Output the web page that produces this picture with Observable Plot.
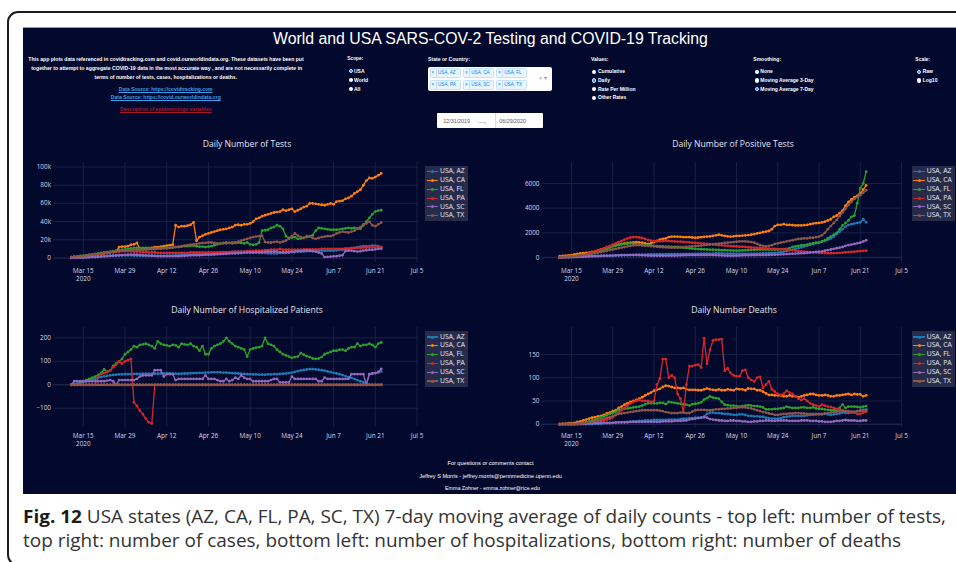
<!DOCTYPE html>
<html><head><meta charset="utf-8">
<script src="https://cdn.jsdelivr.net/npm/d3@7"></script>
<script src="https://cdn.jsdelivr.net/npm/@observablehq/plot@0.6"></script>
<style>
html,body{margin:0;padding:0;background:#fff;}
body{width:956px;height:562px;overflow:hidden;position:relative;font-family:"Liberation Sans",Arial,sans-serif;}
.abs{position:absolute;white-space:nowrap;line-height:1;}
</style></head><body>
<script>
// ---------------- DATA ----------------
const states = ["USA, AZ","USA, CA","USA, FL","USA, PA","USA, SC","USA, TX"];
const colors = ["#1f77b4","#ff7f0e","#2ca02c","#d62728","#9467bd","#8c564b"];
const seriesStart = "2020-03-11";   // daily values, Mar 11 .. Jun 23
const xTickDates = ["2020-03-15","2020-03-29","2020-04-12","2020-04-26","2020-05-10","2020-05-24","2020-06-07","2020-06-21","2020-07-05"];
const xTickLabels = ["Mar 15\n2020","Mar 29","Apr 12","Apr 26","May 10","May 24","Jun 7","Jun 21","Jul 5"];

// Daily Number of Tests (thousands)
const testsAZ = [0.2,0.3,0.4,0.5,0.6,0.8,1,1.2,1.4,1.6,1.8,2,2.2,2.4,2.5,
 2.6,2.7,2.8,2.8,2.8,2.8,2.7,2.6,2.5,2.4,2.3,2.2,2.2,2.2,2.2,
 2.2,2.3,2.4,2.5,2.6,2.7,2.8,3,3.2,3.4,3.6,3.8,4,4.2,4.4,
 4.6,4.8,5,5.2,5.4,5.6,5.8,6,6.2,6.4,6.6,6.8,7,7,7,
 6.5,6,6,5.5,5.5,5.5,5,5,5,5,5.5,5.5,6,6,6.5,
 6.5,7,7,7,7.5,7.5,7.5,7.5,8,8,8,8,8,8,8.5,
 9,9,9.5,10,10.5,11,12,12.5,13,13,13,13.5,13.5,13,12];
const testsCA = [1,1.5,1.5,2,2,2,2.5,3,3.5,4,4.5,5,5.5,6,6.5,
 7,12,12.5,12.5,13,14.5,15,16.5,10,10,10.5,10.5,11,12,12,
 12.5,13,13.5,14,14.5,36,34,35,35,35.5,36.5,39,19,23,24.5,
 26,27,28,29,30,31,31.5,32,33,34,36,36.5,36,37,37,
 38,40,43,44,46,47,48,49,50,50.5,51,53,52,53,54,
 51,52.5,54,56,57,60,60,59.5,59,58.5,58,59,60,59,62,
 62.5,63,65,66,68,71,73,75,80,85,88,87.5,89,91,93];
const testsFL = [0.5,1,1.5,2,2.5,3,3.5,4,4.5,5,5.5,6,6.5,7,7.5,
 8,8.5,9,9.5,10,10.5,11,11,11,11,11,11,11,10.5,10.5,
 11,11,11,11,11.5,12,12,12.5,13,13,13.5,13.5,13,12.5,12.5,
 12,12.5,13,14,15,16,16.5,17,16.5,16,16.5,17,16.5,16,17,
 15,14.5,15,17,30,30.5,31,33,34,36,35,32,24,22,22.5,
 23,21,21.5,22,23,24,25,30,33,32.5,32,31.5,31,31,31,
 31.5,32,32.5,33,32.5,33,32.5,32,36,40,44,48,51,52,52.5];
const testsPA = [0.3,0.5,0.8,1,1.5,2,2.5,3,3.5,4,4.5,5,5.5,6,6.5,
 7,7,7.5,7.5,7.5,7.5,7,7,7,6.5,6.5,6,6,6,5.5,
 5.5,5.5,5.5,5.5,5.5,5.5,5.5,5.5,5.5,5.5,6,6,6,6,6,
 6,6,6,6,6,6.5,6.5,6.5,6.5,7,7,7,7,7,7.5,
 7.5,7.5,8,8,8,8.5,8.5,9,9,9,10,9,9,9,9,
 9,9,9,9.5,9.5,9.5,9.5,9.5,9.5,10,10,10,10,10,10,
 10,10,10.5,10.5,11,11,11,11,11.5,11.5,12,12,12,12.5,12];
const testsSC = [0,0.2,0.3,0.4,0.5,0.6,0.8,1,1,1.2,1.5,1.8,2,2.2,2.5,
 2.8,3,3.2,3.4,3.5,3.6,3.6,3.5,3.3,3,2.8,2.6,2.4,2.2,2,
 2,2,2,2,2,2,2,2.2,2.4,2.6,2.8,3,3,3,3.2,
 3.4,3.5,3.6,3.8,4,4.2,4.4,4.6,4.8,5,5,5.2,5.4,5.6,5.8,
 6,6,6.2,6.4,6.5,6.6,6.8,7,7,7,6.5,6,6,6.5,7,
 7,7.5,7.5,8,8,8,7.5,7,6,5,1,1.2,1.5,1.8,2,
 2.5,3,7.5,8,8,7.5,7,7.5,8,8.5,9,9,9.5,10,10];
const testsTX = [1,1,1.5,2,2,2.5,3,3.5,4,4.5,5,5.5,6,6.5,7,
 7,7.5,8,8,8.5,8.5,9,9,9,9,9,9.5,9.5,9.5,10,
 10,10.5,10.5,11,11.5,12,12.5,13,13.5,14,14.5,15,15.5,16,16.5,
 16.5,17,17,16.5,16,15.5,16,16,16.5,17,17,18,19,20,21,
 22,23,23.5,24,24.5,17.5,17,17,17.5,18,17,18,19,21,24,
 27,24.5,23,22,24,23.5,22,21,22,23,23.5,24,24,25,27,
 28,29,28.5,28,29,30,32,34,37,38,40,36,35,37,39];

// Daily Number of Positive Tests
const posAZ = [0,5,10,15,20,30,40,50,60,70,80,90,100,110,120,
 130,140,150,160,170,180,190,200,200,210,220,230,230,240,240,
 250,250,250,260,260,260,270,270,270,280,280,280,290,290,300,
 300,300,310,310,310,320,320,320,330,330,330,320,320,310,310,
 300,300,300,300,300,310,310,320,320,330,340,350,360,380,400,
 430,470,520,580,640,700,760,830,900,970,1040,1100,1160,1220,1280,
 1350,1450,1550,1700,1900,2100,2300,2500,2650,2700,2750,2800,2850,3100,2850];
const posCA = [100,120,150,180,200,250,300,330,350,380,400,450,500,580,650,
 720,800,880,950,1000,1050,1100,1150,1180,1200,1230,1250,1220,1200,1150,
 1100,1150,1250,1350,1450,1500,1550,1650,1700,1700,1700,1680,1650,1650,1650,
 1620,1600,1620,1650,1680,1700,1720,1750,1800,1850,1800,1750,1720,1700,1720,
 1750,1760,1780,1800,1820,1850,1900,1950,2000,2050,2100,2150,2300,2550,2650,
 2650,2700,2650,2650,2620,2600,2600,2600,2620,2650,2700,2750,2780,2800,2850,
 2900,3000,3100,3300,3400,3600,3800,4200,4500,4700,4900,5000,5200,5500,5850];
const posFL = [0,20,40,60,80,100,130,160,200,250,300,350,400,470,530,
 600,700,800,900,950,1000,1050,1100,1120,1150,1120,1080,1050,1030,1000,
 1000,980,950,930,900,900,880,870,850,850,850,830,800,780,750,
 720,700,680,670,660,650,640,630,620,610,600,600,580,570,560,
 550,560,570,580,600,620,630,640,650,650,650,640,640,650,650,
 660,680,700,750,850,900,950,1000,1000,1050,1100,1150,1200,1200,1300,
 1400,1550,1700,1850,2000,2300,2600,2800,3000,3300,3400,4400,5600,6000,6950];
const posPA = [0,10,20,40,60,80,110,150,200,260,330,400,480,560,640,
 720,850,950,1050,1150,1250,1350,1450,1550,1620,1650,1650,1620,1580,1500,
 1420,1360,1320,1300,1320,1340,1350,1330,1320,1300,1290,1280,1260,1250,1230,
 1200,1190,1170,1150,1120,1100,1080,1050,1030,1000,990,970,950,930,920,
 900,880,870,850,830,810,800,780,770,750,740,720,700,690,680,
 670,660,650,620,600,560,520,500,480,460,440,420,400,380,370,
 360,350,350,350,360,380,400,420,440,460,480,500,520,540,550];
const posSC = [0,10,20,30,40,50,60,70,80,90,100,110,120,130,140,
 150,150,160,160,170,180,190,200,200,200,200,200,190,180,170,
 160,150,150,150,150,150,150,150,150,150,160,170,180,190,200,
 200,200,200,200,200,200,200,200,190,180,170,160,150,150,150,
 150,160,170,180,180,190,190,200,200,200,200,210,220,230,240,
 250,260,280,300,310,320,330,340,350,370,400,420,450,480,500,
 550,600,650,700,750,800,850,950,1000,1050,1100,1150,1200,1300,1400];
const posTX = [0,20,40,60,80,100,130,160,200,240,280,320,360,400,450,
 500,550,600,650,700,750,800,850,900,950,980,1000,1000,980,960,
 950,920,900,880,850,830,820,810,800,800,800,810,830,850,870,
 900,920,950,970,1000,1020,1050,1080,1100,1120,1150,1180,1200,1230,1250,
 1280,1300,1300,1300,1280,1250,1200,1100,1000,950,900,950,1000,1100,1150,
 1200,1250,1300,1350,1400,1450,1500,1520,1550,1550,1600,1600,1650,1700,1800,
 2000,2300,2550,2800,3050,3350,3650,3950,4250,4500,4750,4900,5050,5250,5450];

// Daily Number of Hospitalized Patients
const hospAZ = [0,3,6,9,12,15,18,22,26,30,33,36,38,40,42,
 43,44,44,45,45,45,46,46,46,47,47,47,47,47,47,
 48,48,48,48,47,47,47,47,48,48,49,50,50,51,51,
 52,52,53,53,53,53,52,52,51,50,49,48,47,46,45,
 45,44,44,43,43,43,44,44,45,45,46,47,48,50,52,
 55,58,61,63,65,67,67,66,64,62,60,57,54,51,48,
 45,41,37,33,29,25,20,15,10,5,45,48,50,52,57];
const hospCA = [0,0,0,0,0,0,0,0,0,0,0,0,0,0,0,
 0,0,0,0,0,0,0,0,0,0,0,0,0,0,0,
 0,0,0,0,0,0,0,0,0,0,0,0,0,0,0,
 0,0,0,0,0,0,0,0,0,0,0,0,0,0,0,
 0,0,0,0,0,0,0,0,0,0,0,0,0,0,0,
 0,0,0,0,0,0,0,0,0,0,0,0,0,0,0,
 0,0,0,0,0,0,0,0,0,0,0,0,0,0,0];
const hospFL = [null,null,null,10,15,20,25,30,35,42,50,65,55,60,80,
 90,100,110,130,140,150,165,160,170,172,175,170,165,155,185,
 175,170,168,165,170,168,160,175,172,170,175,165,160,145,165,
 130,130,155,165,170,175,185,200,185,175,165,160,155,150,120,
 150,155,158,160,165,200,175,170,165,150,140,130,125,120,115,
 118,120,135,128,122,118,112,110,112,118,130,135,140,145,145,
 150,150,145,155,160,160,175,165,170,170,175,170,160,175,180];
const hospPA = [0,0,0,0,0,0,0,0,0,35,45,50,55,60,75,
 85,100,90,100,105,110,-75,-90,-110,-125,-145,-160,-165,0,0,
 0,0,0,0,0,0,0,0,0,0,0,0,0,0,0,
 0,0,0,0,0,0,0,0,0,0,0,0,0,0,0,
 0,0,0,0,0,0,0,0,0,0,0,0,0,0,0,
 0,0,0,0,0,0,0,0,0,0,0,0,0,0,0,
 0,0,0,0,0,0,0,0,0,0,0,0,0,0,0];
const hospSC = [0,15,15,15,15,15,15,15,15,15,15,15,18,20,15,
 0,20,20,20,20,20,20,25,35,40,40,40,40,62,62,
 62,35,45,45,45,20,25,25,25,25,25,25,25,25,25,
 40,25,25,25,20,15,15,25,15,20,30,25,40,30,25,
 25,15,15,15,15,15,15,20,25,25,10,10,10,10,35,
 25,25,25,25,25,25,25,25,15,15,30,25,25,25,25,
 25,25,25,25,45,45,45,45,45,0,45,48,50,55,68];
const hospTX = [0,0,0,0,0,0,0,0,0,0,0,0,0,0,0,
 0,0,0,0,0,0,0,0,0,0,0,0,0,0,0,
 0,0,0,0,0,0,0,0,0,0,0,0,0,0,0,
 0,0,0,0,0,0,0,0,0,0,0,0,0,0,0,
 0,0,0,0,0,0,0,0,0,0,0,0,0,0,0,
 0,0,0,0,0,0,0,0,0,0,0,0,0,0,0,
 0,0,0,0,0,0,0,0,0,0,0,0,0,0,0];

// Daily Number Deaths
const deathsAZ = [0,0,0,0,0,0,0,0,0,0,0,0,1,1,1,
 2,2,2,3,3,4,4,4,5,5,6,6,7,7,8,
 8,8,9,9,9,9,9,10,10,10,10,11,12,12,13,
 13,14,14,14,16,22,25,25,24,24,23,22,22,21,20,
 20,21,21,20,18,18,17,17,16,16,14,13,12,12,12,
 13,15,16,17,18,18,18,18,18,19,20,20,21,21,21,
 22,21,20,21,22,23,25,24,24,25,26,28,30,31,32];
const deathsCA = [0,1,1,2,2,3,5,6,8,10,12,14,15,17,18,
 20,23,25,28,30,35,38,42,45,48,50,52,55,58,62,
 65,68,72,74,76,80,83,82,80,78,78,77,78,75,74,
 74,74,73,73,75,77,75,74,73,75,73,73,75,74,73,
 76,75,75,73,77,76,76,73,73,70,66,63,63,62,62,
 62,60,60,62,60,60,58,60,62,63,65,65,63,62,62,
 63,62,60,60,62,62,63,64,65,63,65,64,64,60,62];
const deathsFL = [0,0,0,0,0,0,1,2,3,5,6,8,10,12,15,
 17,20,22,24,27,30,32,33,34,35,36,37,38,40,43,
 45,45,45,45,46,46,43,48,47,46,45,44,43,42,40,
 43,44,45,47,53,56,60,57,56,55,48,42,41,40,40,
 39,38,39,40,41,40,39,39,38,36,32,32,32,33,33,
 34,35,38,36,35,35,35,36,36,35,35,36,34,33,33,
 32,31,30,30,30,35,42,35,38,38,38,37,36,38,39];
const deathsPA = [0,0,0,0,0,0,1,1,2,2,3,4,5,6,7,
 8,10,12,15,20,25,30,35,40,45,48,50,52,50,50,
 50,48,50,85,98,140,140,100,105,100,65,55,25,85,125,
 125,127,128,122,185,130,160,180,182,182,183,115,120,110,105,
 103,103,115,117,100,95,92,100,102,78,85,92,75,70,65,
 63,65,72,68,65,60,55,52,55,50,45,42,40,38,42,
 40,38,37,35,33,32,30,28,27,26,25,22,22,25,27];
const deathsSC = [0,0,0,0,0,0,1,1,1,1,2,2,2,2,3,
 3,3,3,3,4,4,4,4,4,5,5,5,5,5,5,
 5,5,5,5,5,6,6,6,6,7,7,7,8,8,10,
 11,12,13,14,15,14,11,10,9,8,8,7,7,8,8,
 7,7,6,6,5,5,6,6,7,7,8,8,7,7,8,
 8,8,8,7,7,7,7,8,8,8,7,7,7,6,6,
 5,5,5,6,7,7,8,9,8,8,8,7,7,8,8];
const deathsTX = [0,0,0,0,0,0,0,1,2,3,4,5,7,9,10,
 12,14,15,17,20,22,23,24,25,26,27,28,29,30,30,
 30,30,30,30,29,28,26,25,24,24,24,25,25,24,24,
 27,30,31,31,31,30,30,31,32,32,33,33,34,34,35,
 35,36,36,36,35,34,32,30,28,26,25,23,22,20,20,
 21,22,22,23,23,24,24,23,23,22,22,22,22,22,22,
 23,24,25,26,27,28,28,28,28,27,27,28,28,29,30];

const testsYTicks = [0,20,40,60,80,100];      const testsYLabels = ["0","20k","40k","60k","80k","100k"];
const posYTicks = [0,2000,4000,6000];         const posYLabels = ["0","2000","4000","6000"];
const hospYTicks = [-100,0,100,200];          const hospYLabels = ["\u2212100","0","100","200"];
const deathsYTicks = [0,50,100,150];          const deathsYLabels = ["0","50","100","150"];

// ---------------- STYLE ----------------
const PANEL = "#03092d", GRID = "#1b2347", TICK = "#d3d6e6", TITLE = "#e2e5ee";
const FONT = "'Open Sans', 'Liberation Sans', sans-serif";
const ARIAL = "'Liberation Sans', Arial, sans-serif";
const dates = d3.utcDay.range(new Date(seriesStart), new Date("2020-06-24"));
const xTicks = xTickDates.map(d => new Date(d));
const X_DOMAIN = [new Date("2020-03-05"), new Date("2020-07-05T12:00:00Z")];

const body = document.body;
function box(style) {
  const el = document.createElement("div");
  el.style.position = "absolute";
  Object.assign(el.style, style);
  body.appendChild(el);
  return el;
}
function txt(s, o) {
  const el = document.createElement("div");
  el.className = "abs";
  el.innerHTML = s;
  const size = o.size || 5;
  Object.assign(el.style, {fontFamily: o.font || ARIAL, fontSize: size + "px", fontWeight: o.weight || "bold",
    color: o.color || "#fff", textDecoration: o.underline ? "underline" : "none", left: "0px", top: "0px"});
  body.appendChild(el);
  if (o.w) {
    const w = el.getBoundingClientRect().width;
    el.style.fontSize = (size * o.w / w) + "px";
  }
  const r = el.getBoundingClientRect();
  const left = o.cx != null ? o.cx - r.width / 2 : o.left;
  el.style.left = left + "px";
  el.style.top = (o.cy - r.height / 2) + "px";
  return el;
}
function radio(cx, cy, sel) {
  box({left: (cx - 2.2) + "px", top: (cy - 2.2) + "px", width: "4.4px", height: "4.4px", borderRadius: "50%",
       background: sel ? "#2f8cf0" : "#fff", boxSizing: "border-box", border: sel ? "0.8px solid #cfe3ff" : "none"});
}

// ---------------- FRAME / PANEL ----------------
box({left: "7px", top: "11px", width: "1000px", height: "551px", border: "2px solid #1c1c1c", borderRadius: "11px"});
box({left: "23px", top: "27px", width: "940px", height: "466px", background: PANEL, borderTop: "1px solid #9a9aa6"});

// ---------------- HEADER ----------------
txt("World and USA SARS-COV-2 Testing and COVID-19 Tracking", {cx: 490.5, cy: 38.5, size: 16, w: 435, weight: "normal"});
txt("This app plots data referenced in covidtracking.com and covid.ourworldindata.org. These datasets have been put", {cx: 166, cy: 60, w: 276});
txt("together to attempt to aggregate COVID-19 data in the most accurate way , and are not necessarily complete in", {cx: 166.7, cy: 68.7, w: 272});
txt("terms of number of tests, cases, hospitalizations or deaths.", {cx: 165.8, cy: 77.3, w: 143});
txt("Data Source: https://covidtracking.com", {cx: 165.7, cy: 89.3, w: 94, color: "#3f9de8", underline: true});
txt("Data Source: https://covid.ourworldindata.org", {cx: 165.8, cy: 98, w: 110, color: "#3f9de8", underline: true});
txt("Description of epidemiology variables", {cx: 165.8, cy: 109.3, w: 91.7, color: "#a8182f", underline: true});

txt("Scope:", {left: 347.3, cy: 59.7, w: 16});
[["USA", true], ["World", false], ["All", false]].forEach(([t, s], i) => {
  radio(350.7, 71 + i * 9, s); txt(t, {left: 354, cy: 71 + i * 9});
});
txt("State or Country:", {left: 428, cy: 60, w: 42});
box({left: "428.3px", top: "66.7px", width: "124px", height: "24.5px", background: "#fff", borderRadius: "2px"});
const chipX = [430, 463.3, 496.3];
states.forEach((s, i) => {
  const x = chipX[i % 3], y = i < 3 ? 68.3 : 80;
  box({left: x + "px", top: y + "px", width: "30.5px", height: "10.2px", background: "#ebf5ff",
    border: "0.6px solid #c2e0ff", borderRadius: "1.5px", boxSizing: "border-box"});
  txt("\u00d7", {left: x + 1.6, cy: y + 5.1, size: 4.6, color: "#007eff", weight: "normal"});
  box({left: (x + 5.6) + "px", top: y + "px", width: "0.6px", height: "10.2px", background: "#c2e0ff"});
  txt(s, {left: x + 8, cy: y + 5.1, size: 4.6, color: "#007eff", weight: "normal"});
});
txt("\u00d7 \u25be", {left: 539, cy: 79, size: 5.5, color: "#999", weight: "normal"});
box({left: "437.3px", top: "113.3px", width: "105.5px", height: "15px", background: "#fff", borderRadius: "1px"});
txt("12/31/2019", {left: 443.3, cy: 121.7, w: 26.7, color: "#555", weight: "normal"});
txt("\u2014\u203a", {left: 478, cy: 121.5, size: 6, color: "#888", weight: "normal"});
box({left: "494.5px", top: "113.3px", width: "0.6px", height: "15px", background: "#ddd"});
txt("06/29/2020", {left: 499.3, cy: 121.7, w: 26.7, color: "#555", weight: "normal"});

txt("Values:", {left: 591, cy: 59.7});
[["Cumulative", false], ["Daily", true], ["Rate Per Million", false], ["Other Rates", false]].forEach(([t, s], i) => {
  radio(594, 71.7 + i * 8.67, s); txt(t, {left: 598, cy: 71.7 + i * 8.67});
});
txt("Smoothing:", {left: 753.3, cy: 59.7});
[["None", false], ["Moving Average 3-Day", false], ["Moving Average 7-Day", true]].forEach(([t, s], i) => {
  radio(757, 71.7 + i * 8.67, s); txt(t, {left: 760.3, cy: 71.7 + i * 8.67});
});
txt("Scale:", {left: 915.3, cy: 59.7});
[["Raw", true], ["Log10", false]].forEach(([t, s], i) => {
  radio(919.3, 71.7 + i * 8.67, s); txt(t, {left: 922.7, cy: 71.7 + i * 8.67});
});

// ---------------- CHARTS ----------------
function chart(cfg) {
  const marks = [
    Plot.ruleX(xTicks, {x: d => d, stroke: GRID, strokeWidth: 0.9}),
    Plot.ruleY(cfg.yTicks, {y: d => d, stroke: GRID, strokeWidth: d => d === 0 ? 1.4 : 0.9}),
    Plot.text(xTicks, {x: d => d, text: (d, i) => xTickLabels[i], frameAnchor: "bottom", lineAnchor: "top",
      dy: 5, fill: TICK, fontSize: 6.4, lineHeight: 1.2}),
    Plot.text(cfg.yTicks, {y: d => d, text: (d, i) => cfg.yLabels[i], frameAnchor: "left", textAnchor: "end",
      dx: -2.5, fill: TICK, fontSize: 6.4})
  ];
  cfg.series.forEach((arr, si) => {
    const sd = [];
    arr.forEach((v, i) => { if (v != null) sd.push({date: dates[i], state: states[si], value: v}); });
    marks.push(Plot.line(sd, {x: "date", y: "value", stroke: "state", strokeWidth: 1.3}));
    marks.push(Plot.dot(sd, {x: "date", y: "value", fill: "state", r: 1.4}));
  });
  const svg = Plot.plot({
    width: 455, height: 140,
    marginLeft: cfg.ml, marginRight: 455 - cfg.ml - cfg.pw, marginTop: 12, marginBottom: 28,
    x: {type: "utc", domain: X_DOMAIN, axis: null},
    y: {domain: cfg.yDomain, axis: null},
    color: {domain: states, range: colors},
    style: {background: "none", fontFamily: FONT, overflow: "visible"},
    marks
  });
  const wrap = box({left: cfg.left + "px", top: cfg.top + "px"});
  wrap.appendChild(svg);
  txt(cfg.title, {cx: cfg.tcx, cy: cfg.tcy, font: FONT, size: 8.6, weight: "normal", color: TITLE});
  legend(cfg.lx, cfg.ly);
}
function legend(left, top) {
  box({left: left + "px", top: top + "px", width: "43px", height: "55.5px", background: "#262b4a"});
  states.forEach((s, i) => {
    const cy = top + 6 + i * 8.8;
    box({left: (left + 1.7) + "px", top: (cy - 0.6) + "px", width: "11.6px", height: "1.2px", background: colors[i]});
    box({left: (left + 6) + "px", top: (cy - 1.5) + "px", width: "3px", height: "3px", borderRadius: "50%", background: colors[i]});
    txt(s, {left: left + 15, cy: cy, font: FONT, size: 6.8, weight: "normal", color: "#e8eaf2"});
  });
}

chart({series: [testsAZ, testsCA, testsFL, testsPA, testsSC, testsTX], yTicks: testsYTicks, yLabels: testsYLabels,
  yDomain: [-5, 105], left: 20, top: 150, ml: 33, pw: 365, title: "Daily Number of Tests", tcx: 247, tcy: 144, lx: 425, ly: 165.7});
chart({series: [posAZ, posCA, posFL, posPA, posSC, posTX], yTicks: posYTicks, yLabels: posYLabels,
  yDomain: [-405, 7700], left: 490, top: 150, ml: 51.5, pw: 361, title: "Daily Number of Positive Tests", tcx: 733, tcy: 144, lx: 911.7, ly: 165.7});
chart({series: [hospAZ, hospCA, hospFL, hospPA, hospSC, hospTX], yTicks: hospYTicks, yLabels: hospYLabels,
  yDomain: [-182, 244], left: 20, top: 315, ml: 33, pw: 365, title: "Daily Number of Hospitalized Patients", tcx: 247, tcy: 310, lx: 425, ly: 331});
chart({series: [deathsAZ, deathsCA, deathsFL, deathsPA, deathsSC, deathsTX], yTicks: deathsYTicks, yLabels: deathsYLabels,
  yDomain: [-7.1, 208], left: 490, top: 315, ml: 51.5, pw: 361, title: "Daily Number Deaths", tcx: 734, tcy: 310, lx: 911.7, ly: 331});

// ---------------- FOOTER / CAPTION ----------------
txt("For questions or comments contact", {cx: 490.5, cy: 464, w: 86, weight: "normal"});
txt("Jeffrey S Morris - jeffrey.morris@pennmedicine.upenn.edu", {cx: 490.5, cy: 476.5, w: 143, weight: "normal"});
txt("Emma Zohner - emma.zohner@rice.edu", {cx: 492.5, cy: 489, w: 95, weight: "normal"});

const cap1 = txt("<b style='color:#1a1a1a'>Fig. 12</b> USA states (AZ, CA, FL, PA, SC, TX) 7-day moving average of daily counts - top left: number of tests,",
  {left: 23, cy: 517, size: 17.5, font: FONT, weight: "normal", color: "#333"});
const cap2 = txt("top right: number of cases, bottom left: number of hospitalizations, bottom right: number of deaths",
  {left: 23, cy: 541, size: 17.5, font: FONT, weight: "normal", color: "#333"});
const capScale = 923 / cap1.getBoundingClientRect().width;
[cap1, cap2].forEach(el => { el.style.transformOrigin = "0 50%"; el.style.transform = "scaleX(" + capScale + ")"; });
</script></body></html>
